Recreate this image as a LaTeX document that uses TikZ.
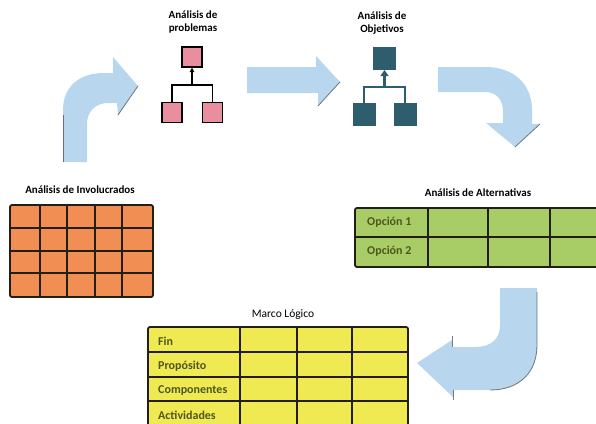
\documentclass[tikz,border=0pt]{standalone}
\usepackage{fontspec}
\setmainfont{Carlito}
\usetikzlibrary{arrows.meta}
\definecolor{arrowblue}{RGB}{184,214,238}
\definecolor{pinkfill}{RGB}{232,142,158}
\definecolor{tealfill}{RGB}{46,94,110}
\definecolor{orangecell}{RGB}{240,142,84}
\definecolor{greencell}{RGB}{168,204,102}
\definecolor{yellowcell}{RGB}{240,234,82}
\definecolor{gridline}{RGB}{35,30,20}
\definecolor{celltext}{RGB}{78,88,30}
\begin{document}
\begin{tikzpicture}[x=1pt,y=-1pt,
  title/.style={font=\fontsize{11}{12.5}\selectfont\bfseries, align=center, text=black, inner sep=0},
  titlereg/.style={font=\fontsize{11.5}{13}\selectfont, align=center, text=black, inner sep=0},
  celltxt/.style={font=\fontsize{12}{14}\selectfont\bfseries, text=celltext, anchor=west, inner sep=0},
  blockarrow/.style={fill=arrowblue},
  edgeshade/.style={draw=gray!55!black, line width=0.8pt, opacity=0.7},
  pbox/.style={draw=black, fill=pinkfill, line width=1.2pt, minimum width=20pt, minimum height=20pt, inner sep=0},
  tbox/.style={draw=tealfill, fill=tealfill, line width=1pt, minimum width=22pt, minimum height=22pt, inner sep=0},
  pline/.style={draw=black, line width=1.2pt},
  tline/.style={draw=tealfill, line width=2.4pt},
  gridframe/.style={draw=gridline, line width=1.8pt, rounded corners=2pt},
  gridrule/.style={draw=gridline, line width=1.6pt}
]
\useasboundingbox (0,0) rectangle (596,423);
\clip (0,0) rectangle (596,423);

% ---------- blue block arrows ----------
% arrow 1 (up then right)
\path[blockarrow] (63,162) -- (63,110) .. controls (63,86) and (80,73) .. (104,73) -- (113,73)
  -- (113,57) -- (138,86) -- (118,115) -- (117,103) -- (108,103)
  .. controls (96,103) and (87,111) .. (87,124) -- (87,162) -- cycle;
\draw[edgeshade] (138,86) -- (118,115);
\draw[edgeshade] (63,115) -- (63,162);
% arrow 2 (straight right)
\path[blockarrow] (247,67) -- (316,67) -- (316,56) -- (340,82) -- (318,106) -- (318,93) -- (247,93) -- cycle;
\draw[edgeshade] (340,82) -- (318,106);
% arrow 3 (right then down)
\path[blockarrow] (438,67) -- (485,67) .. controls (515,67) and (532,85) .. (532,110) -- (532,124)
  -- (540,124) -- (515,147) -- (486,123) -- (503,123) -- (503,112)
  .. controls (503,100) and (497,92) .. (485,92) -- (438,92) -- cycle;
\draw[edgeshade] (540,124) -- (515,147);
% arrow 4 (down then left)
\path[blockarrow] (500,288) -- (537,288) -- (537,345) .. controls (537,372) and (520,390) .. (490,390)
  -- (453,390) -- (453,397) -- (417,363) -- (452,340) -- (452,347) -- (475,347)
  .. controls (490,347) and (500,340) .. (500,325) -- cycle;
\draw[edgeshade] (537,292) -- (537,345) .. controls (537,372) and (520,390) .. (490,390);
\draw[edgeshade] (452,336) -- (452,347);
\draw[edgeshade] (453,390) -- (453,400);

% ---------- Analisis de problemas ----------
\node[title] (tprob) at (193,22) {Análisis de\\problemas};
\node[pbox] (pt) at (192,57) {};
\node[pbox] (pl) at (172,112.5) {};
\node[pbox] (pr) at (212.5,112.5) {};
\coordinate (pj) at (192,85);
\draw[pline] (pl.north) |- (pj) -| (pr.north);
\draw[pline, -{Triangle[length=4.5pt,width=4.5pt]}] (pj) -- (pt.south);

% ---------- Analisis de Objetivos ----------
\node[title] (tobj) at (382,23) {Análisis de\\Objetivos};
\node[tbox] (ot) at (384.5,58.5) {};
\node[tbox] (ol) at (364,114.5) {};
\node[tbox] (or) at (405,114.5) {};
\coordinate (oj) at (384.5,87);
\draw[tline] (ol.north) |- (oj) -| (or.north);
\draw[tline, -{Triangle[length=6pt,width=8pt]}] (oj) -- (ot.south);

% ---------- Analisis de Involucrados ----------
\node[title] (tinv) at (80,190) {Análisis de Involucrados};
\path[fill=orangecell, rounded corners=2pt] (10,205) rectangle (153,297);
\foreach \x in {40,67,95,122} \draw[gridrule] (\x,205) -- (\x,297);
\foreach \y in {228,251,273} \draw[gridrule] (10,\y) -- (153,\y);
\draw[gridframe] (10,205) rectangle (153,297);

% ---------- Analisis de Alternativas ----------
\node[title] (talt) at (478,193) {Análisis de Alternativas};
\path[fill=greencell, rounded corners=2pt] (355,208) rectangle (610,267);
\foreach \x in {428,488,550} \draw[gridrule] (\x,208) -- (\x,267);
\draw[gridrule] (355,237) -- (610,237);
\draw[gridframe] (355,208) rectangle (610,267);
\node[celltxt] (op1) at (367,222.5) {Opción 1};
\node[celltxt] (op2) at (367,251) {Opción 2};

% ---------- Marco Logico ----------
\node[titlereg] (tml) at (283,315) {Marco Lógico};
\path[fill=yellowcell, rounded corners=2pt] (148,327) rectangle (408,440);
\foreach \x in {240,297,352} \draw[gridrule] (\x,327) -- (\x,440);
\foreach \y in {352,377,401} \draw[gridrule] (148,\y) -- (408,\y);
\draw[gridframe] (148,327) rectangle (408,440);
\node[celltxt] (fin) at (158,341) {Fin};
\node[celltxt] (prop) at (158,366) {Propósito};
\node[celltxt] (comp) at (158,391) {Componentes};
\node[celltxt] (act) at (158,415) {Actividades};
\end{tikzpicture}
\end{document}
